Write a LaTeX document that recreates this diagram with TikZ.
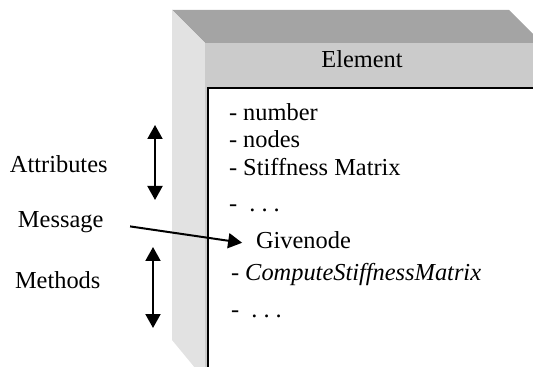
\documentclass[tikz,border=0pt]{standalone}
\usepackage{fontspec}
\setmainfont{Liberation Serif}
\usetikzlibrary{arrows.meta}
\definecolor{ctop}{HTML}{A4A4A4}
\definecolor{cside}{HTML}{E2E2E2}
\definecolor{chead}{HTML}{CBCBCB}
\tikzset{
  every picture/.style={line width=1pt},
  txt/.style={anchor=base west, inner sep=0pt, font=\fontsize{12.2}{14}\selectfont},
  arrow/.style={-{Triangle[length=7pt, width=7.5pt]}, line width=1pt},
  twoway/.style={{Triangle[length=7pt, width=7.5pt]}-{Triangle[length=7pt, width=7.5pt]}, line width=1pt},
}

\begin{document}
\begin{tikzpicture}[x=0.5pt, y=-0.5pt]
  \useasboundingbox (0,0) rectangle (533,367);
  \clip (0,0) rectangle (533,367);
  % the class as a box: top face, left face, front face with its header
  \fill[ctop] (172,10) -- (509,10) -- (542,43) -- (205,43) -- cycle;
  \fill[cside] (172,10) -- (205,43) -- (205,380) -- (172,340) -- cycle;
  \fill[chead] (205,43) rectangle (560,400);
  \filldraw[fill=white, draw=black] (208,88) rectangle (560,400);
  \node[txt, anchor=base] (elem) at (362,68) {Element};
  % attributes
  \foreach \i/\y/\t in {1/121/{- number}, 2/148/{- nodes}, 3/176/{- Stiffness Matrix}, 4/212/{-\ \ .\ .\ .}}
    \node[txt] (attr\i) at (228,\y) {\t};
  % methods
  \node[txt] (give) at (255,249) {Givenode};
  \node[txt] (meth1) at (230,280) {- \textit{ComputeStiffnessMatrix}};
  \node[txt] (meth2) at (230,317) {-\ \ .\ .\ .};
  % labels on the left
  \node[txt] (attrs) at (9,173) {Attributes};
  \node[txt] (msg) at (17,228) {Message};
  \node[txt] (meths) at (14,288) {Methods};
  \coordinate (atop) at (155,125);
  \coordinate (abot) at (155,200);
  \coordinate (mtop) at (153,247);
  \coordinate (mbot) at (153,328);
  \draw[twoway] (atop) -- (abot);
  \draw[twoway] (mtop) -- (mbot);
  \draw[arrow, shorten <=13pt, shorten >=6.5pt] (msg.east) -- ([yshift=-2pt]give.west);
\end{tikzpicture}
\end{document}
